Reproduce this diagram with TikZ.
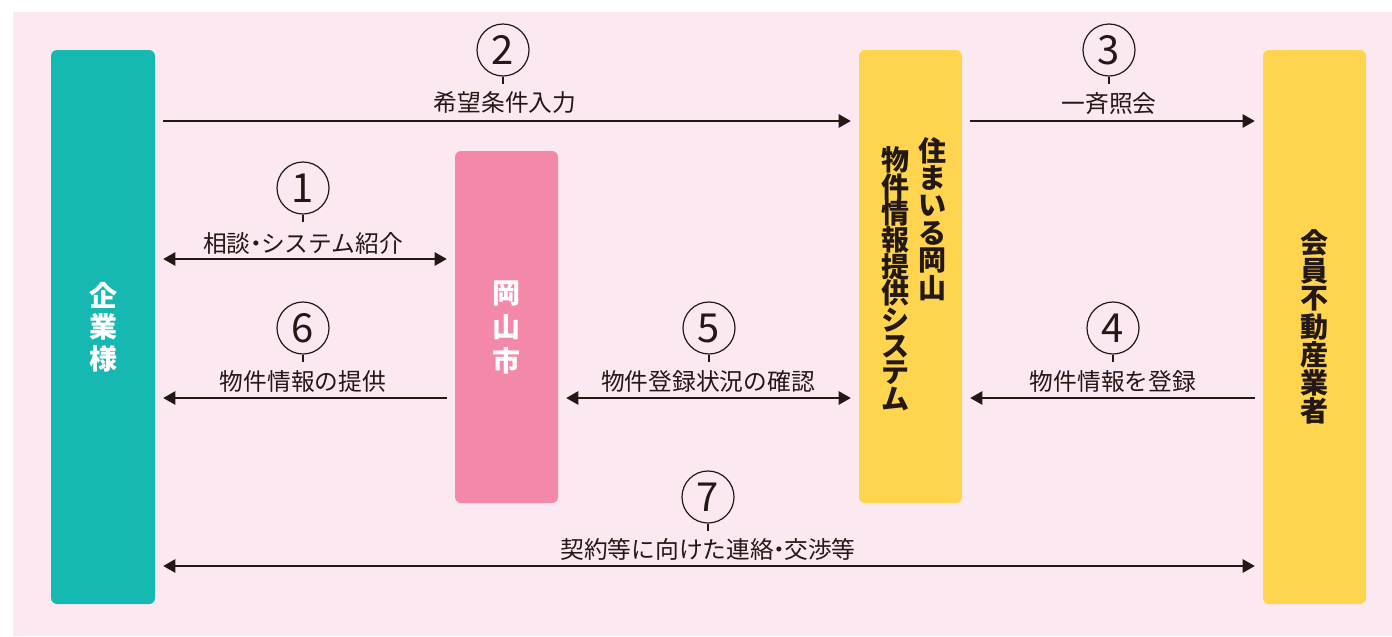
\documentclass[tikz,border=0pt]{standalone}
\usepackage{fontspec}
\setmainfont{Noto Sans CJK JP}
\usetikzlibrary{arrows.meta}

\definecolor{bgpink}{HTML}{FCE8F1}
\definecolor{kteal}{HTML}{16B9B2}
\definecolor{kpink}{HTML}{F388A8}
\definecolor{kyellow}{HTML}{FFD54F}
\definecolor{ink}{HTML}{231815}

\newcommand\nakaten{\hspace{-0.28em}・\hspace{-0.28em}}

\tikzset{
  box/.style={rounded corners=4.5pt, inner sep=0pt},
  tate/.style={inner sep=0pt, font=\bfseries\fontsize{21}{21}\selectfont},
  num/.style={circle, draw=ink, line width=0.9pt, minimum size=39pt, inner sep=0pt,
    text=ink, font=\fontsize{30}{30}\selectfont},
  lbl/.style={inner sep=0pt, text=ink, font=\fontsize{17.8}{17.8}\selectfont},
  flow/.style={draw=ink, line width=1.1pt, shorten <=6pt, shorten >=6pt,
    >={Triangle[length=9pt,width=10pt]}},
  tail/.style={draw=ink, line width=0.9pt}
}

\begin{document}
\begin{tikzpicture}[x=0.75pt, y=-0.75pt]

    \useasboundingbox (0,0) rectangle (1392,636);
    \fill[bgpink] (13,12) rectangle (1392,636);

    % boxes
    \node[box, fill=kteal, minimum width=78pt, minimum height=415.5pt] (kigyo) at (103,327) {};
    \node[box, fill=kpink, minimum width=77.25pt, minimum height=264pt] (okayama) at (506.5,327) {};
    \node[box, fill=kyellow, minimum width=77.25pt, minimum height=339.75pt] (sumairu) at (910.5,276.5) {};
    \node[box, fill=kyellow, minimum width=77.25pt, minimum height=415.5pt] (kaiin) at (1314.5,327) {};

    % vertical names
    \foreach \c [count=\i] in {企,業,様}
      \node[tate, text=white] (kigyo-\i) at (103,{327+32*(\i-2)}) {\c};
    \foreach \c [count=\i] in {岡,山,市}
      \node[tate, text=white] (okayama-\i) at (506.5,{327+33.5*(\i-2)}) {\c};
    \foreach \c [count=\i] in {会,員,不,動,産,業,者}
      \node[tate, text=ink] (kaiin-\i) at (1314.5,{327+28*(\i-4)}) {\c};
    \foreach \c [count=\i] in {住,ま,い,る,岡,山}
      \node[tate, text=ink] (sumairu-a\i) at (932,{150.5+27.5*(\i-1)}) {\c};
    \foreach \c [count=\i] in {物,件,情,報,提,供,シ,ス,テ,ム}
      \node[tate, text=ink] (sumairu-b\i) at (895,{160+26.6*(\i-1)}) {\c};

    % arrow levels
    \coordinate (y2) at (0,121);
    \coordinate (y1) at (0,259);
    \coordinate (y5) at (0,398);
    \coordinate (y7) at (0,566);

    \draw[flow, ->] (kigyo.east |- y2) -- (sumairu.west |- y2);
    \draw[flow, ->] (sumairu.east |- y2) -- (kaiin.west |- y2);
    \draw[flow, <->] (kigyo.east |- y1) -- (okayama.west |- y1);
    \draw[flow, <-] (kigyo.east |- y5) -- (okayama.west |- y5);
    \draw[flow, <->] (okayama.east |- y5) -- (sumairu.west |- y5);
    \draw[flow, <-] (sumairu.east |- y5) -- (kaiin.west |- y5);
    \draw[flow, <->] (kigyo.east |- y7) -- (kaiin.west |- y7);

    % labels
    \node[lbl] (t2) at (505,103) {希望条件入力};
    \node[lbl] (t3) at (1109,104) {一斉照会};
    \node[lbl] (t1) at (303,243) {相談\nakaten システム紹介};
    \node[lbl] (t6) at (303,381) {物件情報の提供};
    \node[lbl] (t5) at (708,381) {物件登録状況の確認};
    \node[lbl] (t4) at (1113,381) {物件情報を登録};
    \node[lbl] (t7) at (708,549) {契約等に向けた連絡\nakaten 交渉等};

    % numbers
    \node[num] (n1) at (303,188) {1};
    \node[num] (n2) at (503,50) {2};
    \node[num] (n3) at (1109,50) {3};
    \node[num] (n4) at (1113,328) {4};
    \node[num] (n5) at (709,328) {5};
    \node[num] (n6) at (303,328) {6};
    \node[num] (n7) at (708,497) {7};
    \foreach \n in {n1,n2,n3,n4,n5,n6,n7}
      \draw[tail] (\n.south) -- ++(0,7);

\end{tikzpicture}
\end{document}
